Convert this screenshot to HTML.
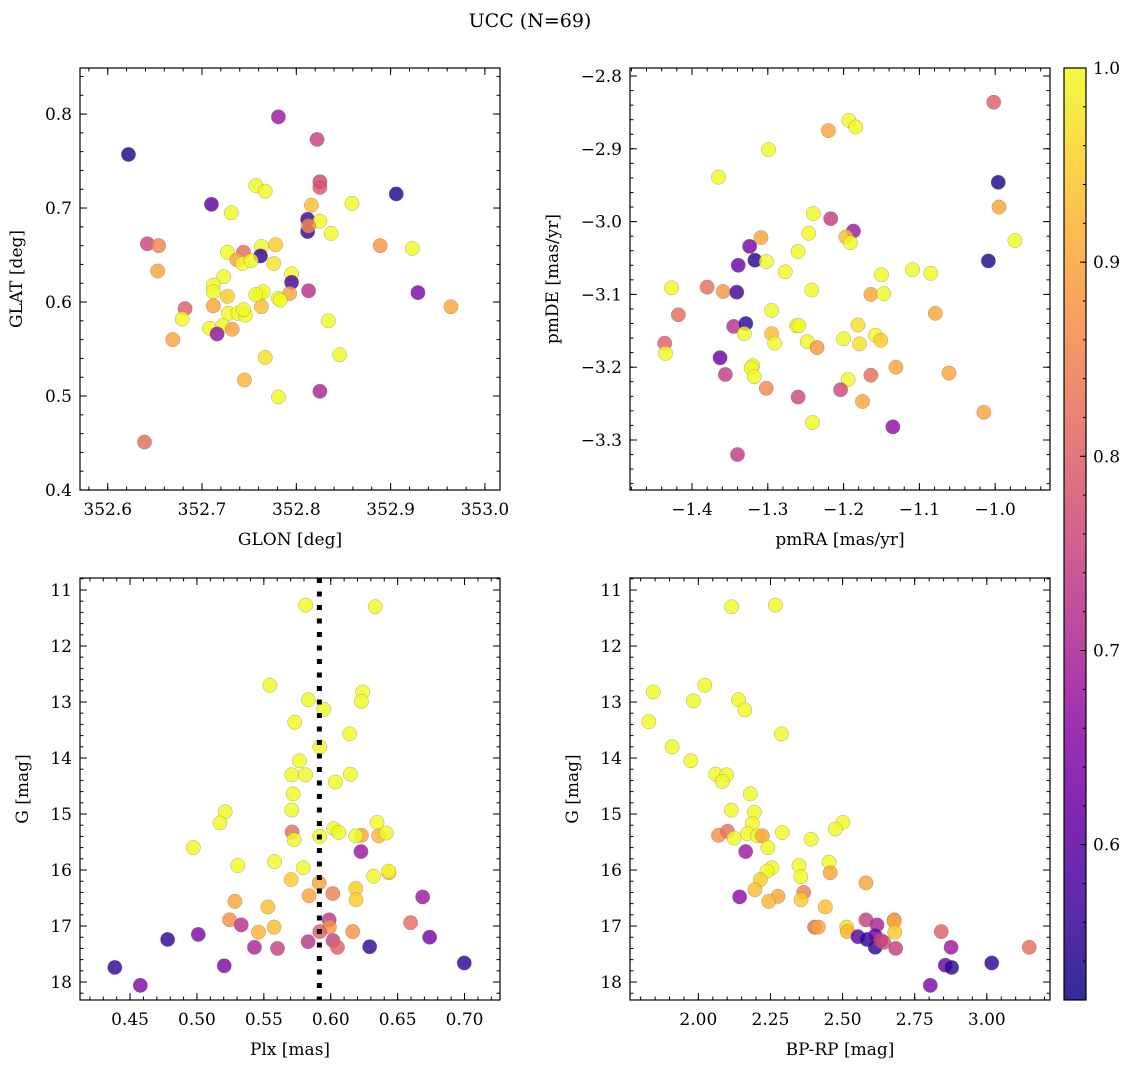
<!DOCTYPE html>
<html><head><meta charset="utf-8"><style>
html,body{margin:0;padding:0;background:#fff;}
svg{display:block;font-family:"DejaVu Serif","Liberation Serif",serif;}
</style></head><body>
<svg id="fig" width="1136" height="1067" viewBox="0 0 1136 1067" xmlns="http://www.w3.org/2000/svg">
<text x="530" y="27" text-anchor="middle" font-size="19">UCC (N=69)</text>
</svg>
<script>
// ---- Data (each panel) ----
const glon=[352.622,352.781,352.822,352.825,352.825,352.906,352.710,352.757,352.767,352.731,352.816,352.859,352.812,352.825,352.812,352.813,352.837,352.642,352.654,352.889,352.923,352.778,352.763,352.727,352.744,352.762,352.737,352.743,352.752,352.776,352.653,352.795,352.723,352.795,352.712,352.712,352.813,352.929,352.761,352.765,352.793,352.781,352.783,352.727,352.763,352.712,352.964,352.682,352.728,352.738,352.746,352.679,352.834,352.708,352.722,352.732,352.716,352.669,352.846,352.767,352.745,352.825,352.781,352.639,352.744,352.757];
const glat=[0.757,0.797,0.773,0.728,0.722,0.715,0.704,0.724,0.718,0.695,0.703,0.705,0.688,0.686,0.675,0.681,0.673,0.662,0.660,0.660,0.657,0.661,0.659,0.653,0.653,0.649,0.645,0.641,0.644,0.641,0.633,0.630,0.627,0.621,0.618,0.611,0.612,0.610,0.608,0.611,0.609,0.604,0.602,0.606,0.595,0.596,0.595,0.593,0.588,0.588,0.586,0.582,0.580,0.572,0.575,0.571,0.566,0.560,0.544,0.541,0.517,0.505,0.499,0.451,0.592,0.608];
const probTL=[0.53,0.68,0.75,0.76,0.78,0.53,0.6,1,1,1,0.93,1,0.56,1,0.55,0.86,1,0.76,0.85,0.88,1,0.95,1,1,0.82,0.55,0.9,1,1,0.98,0.9,1,1,0.58,1,1,0.72,0.64,1,1,0.9,1,1,0.95,0.93,0.9,0.9,0.8,1,1,1,1,1,1,1,0.9,0.67,0.9,1,0.97,0.92,0.7,1,0.82,1,1];

const pmra=[-1.002,-1.193,-1.184,-1.220,-1.299,-1.365,-0.996,-0.995,-1.240,-1.217,-1.187,-1.197,-1.191,-1.246,-0.974,-1.309,-1.324,-1.260,-1.317,-1.302,-1.339,-1.277,-1.009,-1.109,-1.085,-1.150,-1.427,-1.380,-1.359,-1.341,-1.242,-1.164,-1.147,-1.295,-1.079,-1.418,-1.345,-1.329,-1.331,-1.262,-1.259,-1.295,-1.291,-1.248,-1.235,-1.200,-1.181,-1.179,-1.158,-1.151,-1.436,-1.435,-1.363,-1.320,-1.322,-1.318,-1.356,-1.302,-1.194,-1.164,-1.131,-1.061,-1.204,-1.260,-1.175,-1.241,-1.135,-1.015,-1.340];
const pmde=[-2.836,-2.861,-2.870,-2.875,-2.901,-2.939,-2.946,-2.980,-2.989,-2.996,-3.013,-3.021,-3.029,-3.016,-3.026,-3.022,-3.034,-3.041,-3.053,-3.055,-3.060,-3.069,-3.054,-3.066,-3.071,-3.073,-3.091,-3.090,-3.096,-3.097,-3.094,-3.100,-3.099,-3.122,-3.126,-3.128,-3.144,-3.140,-3.154,-3.143,-3.143,-3.154,-3.167,-3.165,-3.173,-3.161,-3.142,-3.168,-3.156,-3.163,-3.167,-3.181,-3.187,-3.198,-3.201,-3.213,-3.210,-3.229,-3.217,-3.211,-3.200,-3.208,-3.231,-3.241,-3.247,-3.276,-3.282,-3.262,-3.320];
const probTR=[0.8,1,1,0.9,1,1,0.53,0.9,1,0.74,0.68,0.93,1,1,1,0.9,0.63,1,0.54,1,0.62,1,0.53,1,1,1,1,0.82,0.88,0.57,1,0.9,1,1,0.9,0.82,0.72,0.55,1,1,1,0.93,1,1,0.88,1,0.97,0.97,1,0.95,0.8,1,0.62,1,1,1,0.74,0.86,1,0.82,0.9,0.9,0.76,0.76,0.9,1,0.66,0.9,0.74];

const plx=[0.5813,0.6333,0.5545,0.6239,0.6229,0.5833,0.5948,0.5731,0.6142,0.5918,0.5766,0.5709,0.5811,0.6147,0.6035,0.5719,0.5709,0.5211,0.5172,0.6346,0.5711,0.5726,0.6022,0.6060,0.5918,0.6229,0.6187,0.6358,0.6415,0.4973,0.6226,0.5580,0.5306,0.5794,0.6321,0.6435,0.6433,0.5704,0.5913,0.6187,0.6189,0.5838,0.6015,0.5284,0.5530,0.6687,0.5244,0.5331,0.5577,0.5460,0.5988,0.5990,0.5918,0.6164,0.6597,0.4781,0.5010,0.6739,0.5831,0.6017,0.6050,0.5430,0.5602,0.6291,0.6998,0.4386,0.5204,0.4577];
const gmagL=[11.27,11.30,12.70,12.82,12.99,12.96,13.13,13.36,13.57,13.80,14.05,14.30,14.30,14.29,14.43,14.64,14.93,14.96,15.16,15.15,15.32,15.46,15.26,15.33,15.40,15.38,15.39,15.39,15.34,15.60,15.67,15.85,15.92,15.96,16.11,16.05,16.02,16.17,16.23,16.33,16.53,16.46,16.42,16.56,16.66,16.48,16.89,16.98,17.02,17.11,16.89,17.02,17.10,17.10,16.94,17.24,17.15,17.20,17.28,17.26,17.38,17.38,17.40,17.37,17.66,17.74,17.71,18.06];
const probBL=[1,1,1,1,1,1,1,1,1,1,1,1,1,1,1,1,1,1,1,1,0.82,1,1,1,1,0.9,1,0.92,1,1,0.68,1,1,1,1,0.93,1,0.95,0.9,0.95,0.95,0.9,0.85,0.9,0.93,0.68,0.87,0.72,0.93,0.92,0.73,0.88,0.8,0.88,0.82,0.55,0.64,0.63,0.73,0.75,0.8,0.7,0.75,0.55,0.55,0.55,0.64,0.64];
const plxLine=0.5915;

const bprp=[2.115,2.267,1.844,2.022,1.983,2.139,2.161,1.828,2.288,1.909,1.974,2.060,2.098,2.083,2.180,2.114,2.194,2.187,2.501,2.475,2.070,2.101,2.124,2.170,2.205,2.222,2.291,2.391,2.164,2.241,2.255,2.238,2.349,2.453,2.355,2.457,2.215,2.581,2.196,2.365,2.356,2.276,2.244,2.143,2.440,2.581,2.619,2.679,2.679,2.681,2.403,2.416,2.514,2.516,2.553,2.584,2.613,2.613,2.643,2.633,2.684,2.842,2.876,3.147,2.856,2.878,3.017,2.804];
const gmagR=[11.30,11.27,12.82,12.70,12.98,12.96,13.14,13.35,13.57,13.80,14.05,14.29,14.30,14.42,14.64,14.93,14.97,15.17,15.15,15.27,15.38,15.31,15.43,15.35,15.39,15.39,15.33,15.45,15.67,15.60,15.96,16.02,15.92,15.86,16.12,16.05,16.17,16.23,16.35,16.40,16.53,16.47,16.56,16.48,16.66,16.89,16.98,16.89,16.92,17.11,17.02,17.02,17.02,17.10,17.19,17.24,17.17,17.38,17.29,17.26,17.40,17.10,17.38,17.38,17.70,17.74,17.66,18.06];
const probBR=[1,1,1,1,1,1,1,1,1,1,1,1,1,1,1,1,1,1,1,1,0.87,0.82,1,1,1,0.9,1,1,0.68,1,1,1,1,1,1,0.9,0.95,0.9,0.93,0.85,0.95,0.9,0.92,0.66,0.93,0.75,0.7,0.88,0.9,0.95,0.82,0.9,0.97,0.92,0.6,0.55,0.62,0.55,0.78,0.75,0.75,0.8,0.68,0.82,0.62,0.55,0.55,0.64];

const ticksGLON=[352.6,352.7,352.8,352.9,353.0];
const ticksGLAT=[0.4,0.5,0.6,0.7,0.8];
const ticksPMRA=[-1.4,-1.3,-1.2,-1.1,-1.0];
const ticksPMDE=[-3.3,-3.2,-3.1,-3.0,-2.9,-2.8];
const ticksPLX=[0.45,0.50,0.55,0.60,0.65,0.70];
const ticksG=[11,12,13,14,15,16,17,18];
const ticksBPRP=[2.00,2.25,2.50,2.75,3.00];
const ticksCB=[0.6,0.7,0.8,0.9,1.0];
const vmin=0.52, vmax=1.0;

const NS='http://www.w3.org/2000/svg';
const svg=document.getElementById('fig');
function mk(tag,attrs,parent){const e=document.createElementNS(NS,tag);for(const k in attrs)e.setAttribute(k,attrs[k]);(parent||svg).appendChild(e);return e;}
const plasma=[[13,8,135],[65,4,157],[106,0,168],[143,13,164],[177,42,144],[204,71,120],[225,100,98],[242,132,75],[252,166,54],[252,206,37],[240,249,33]];
function cmap(v){let t=(v-vmin)/(vmax-vmin);t=Math.max(0,Math.min(1,t))*10;const i=Math.min(9,Math.floor(t)),f=t-i;const a=plasma[i],b=plasma[i+1];return 'rgb('+a.map((c,k)=>Math.round(c+(b[k]-c)*f)).join(',')+')';}
function fmt(v,d){const s=Math.abs(v).toFixed(d);return (v<0?'\u2212':'')+s;}

function panel(cfg){
  const g=mk('g',{});
  
  
  const {x0,x1,y0,y1,xd,yd}=cfg;
  const sx=v=>x0+(v-xd[0])/(xd[1]-xd[0])*(x1-x0);
  const sy=v=>y0+(v-yd[0])/(yd[1]-yd[0])*(y1-y0);
  const mt=mk('g',{stroke:'#000','stroke-width':1},g);
  
  
  const xa=Math.min(xd[0],xd[1]),xb=Math.max(xd[0],xd[1]);
  for(let k=Math.ceil(xa/cfg.xminor-1e-6);k*cfg.xminor<=xb+1e-9;k++){const px=sx(k*cfg.xminor);mk('line',{x1:px,x2:px,y1:y1,y2:y1-3.5},mt);mk('line',{x1:px,x2:px,y1:y0,y2:y0+3.5},mt);}
  const ya=Math.min(yd[0],yd[1]),yb=Math.max(yd[0],yd[1]);
  for(let k=Math.ceil(ya/cfg.yminor-1e-6);k*cfg.yminor<=yb+1e-9;k++){const py=sy(k*cfg.yminor);mk('line',{y1:py,y2:py,x1:x0,x2:x0+3.5},mt);mk('line',{y1:py,y2:py,x1:x1,x2:x1-3.5},mt);}
  cfg.xt.forEach(v=>{const px=sx(v);mk('line',{x1:px,x2:px,y1:y1,y2:y1-7},mt);mk('line',{x1:px,x2:px,y1:y0,y2:y0+7},mt);
    const t=mk('text',{x:px,y:y1+25,'text-anchor':'middle','font-size':17},g);t.textContent=fmt(v,cfg.xdec);
    });
  cfg.yt.forEach(v=>{const py=sy(v);mk('line',{y1:py,y2:py,x1:x0,x2:x0+7},mt);mk('line',{y1:py,y2:py,x1:x1,x2:x1-7},mt);
    const t=mk('text',{x:x0-8,y:py+6,'text-anchor':'end','font-size':17},g);t.textContent=fmt(v,cfg.ydec);
    });
  const pg=mk('g',{},g);
  
  
  for(let i=0;i<cfg.xs.length;i++){
    const c=mk('circle',{cx:sx(cfg.xs[i]),cy:sy(cfg.ys[i]),r:7.2,fill:cmap(cfg.cs[i]),'fill-opacity':0.82,stroke:'#777','stroke-opacity':0.6,'stroke-width':0.5},pg);
    
    
  }
  if(cfg.vline!==undefined){const px=sx(cfg.vline);const l=mk('line',{x1:px,x2:px,y1:y0,y2:y1,stroke:'#000','stroke-width':5,'stroke-dasharray':'5 8.5'},g);
    }
  const fr=mk('rect',{x:x0,y:y0,width:x1-x0,height:y1-y0,fill:'none',stroke:'#000','stroke-width':1.2},g);
  
  const xl=mk('text',{x:(x0+x1)/2,y:y1+55,'text-anchor':'middle','font-size':17},g);xl.textContent=cfg.xlab;
  
  const yx=cfg.ylx, ym=(y0+y1)/2;
  const yl=mk('text',{x:yx,y:ym,'text-anchor':'middle','font-size':17,transform:'rotate(-90 '+yx+' '+ym+')'},g);yl.textContent=cfg.ylab;
  
}

panel({name:'glon-glat-panel',x0:80,x1:500,y0:68,y1:490,xd:[352.5706,353.016],yd:[0.849,0.40],xt:ticksGLON,yt:ticksGLAT,xminor:0.02,yminor:0.02,xdec:1,ydec:1,xs:glon,ys:glat,cs:probTL,xlab:'GLON [deg]',ylab:'GLAT [deg]',ylx:22});
panel({name:'pm-panel',x0:630,x1:1050,y0:68,y1:490,xd:[-1.4818,-0.9277],yd:[-2.789,-3.3687],xt:ticksPMRA,yt:ticksPMDE,xminor:0.02,yminor:0.02,xdec:1,ydec:1,xs:pmra,ys:pmde,cs:probTR,xlab:'pmRA [mas/yr]',ylab:'pmDE [mas/yr]',ylx:558});
panel({name:'plx-g-panel',x0:80,x1:500,y0:578,y1:1000,xd:[0.4126,0.7265],yd:[10.786,18.321],xt:ticksPLX,yt:ticksG,xminor:0.01,yminor:0.2,xdec:2,ydec:0,xs:plx,ys:gmagL,cs:probBL,xlab:'Plx [mas]',ylab:'G [mag]',ylx:28,vline:plxLine});
panel({name:'cmd-panel',x0:630,x1:1050,y0:578,y1:1000,xd:[1.763,3.219],yd:[10.786,18.321],xt:ticksBPRP,yt:ticksG,xminor:0.05,yminor:0.2,xdec:2,ydec:0,xs:bprp,ys:gmagR,cs:probBR,xlab:'BP-RP [mag]',ylab:'G [mag]',ylx:578});

const cb=mk('g',{});


const defs=mk('defs',{},cb);
const lg=mk('linearGradient',{id:'cbg',x1:0,y1:1,x2:0,y2:0},defs);
plasma.forEach((c,i)=>mk('stop',{offset:(i/10),'stop-color':'rgb('+c.join(',')+')','stop-opacity':0.85},lg));
const cbx0=1064,cbx1=1086,cby0=68,cby1=1000;
mk('rect',{x:cbx0,y:cby0,width:cbx1-cbx0,height:cby1-cby0,fill:'url(#cbg)',stroke:'#000','stroke-width':1.2},cb);
const cy=v=>cby1-(v-vmin)/(vmax-vmin)*(cby1-cby0);
for(let v=0.54;v<=1.0001;v+=0.02){mk('line',{x1:cbx1,x2:cbx1-3,y1:cy(v),y2:cy(v),stroke:'#000'},cb);}
ticksCB.forEach(v=>{mk('line',{x1:cbx1,x2:cbx1-6,y1:cy(v),y2:cy(v),stroke:'#000'},cb);
  const t=mk('text',{x:cbx1+7,y:cy(v)+6,'font-size':17},cb);t.textContent=v.toFixed(1);
  });
</script>
</body></html>
